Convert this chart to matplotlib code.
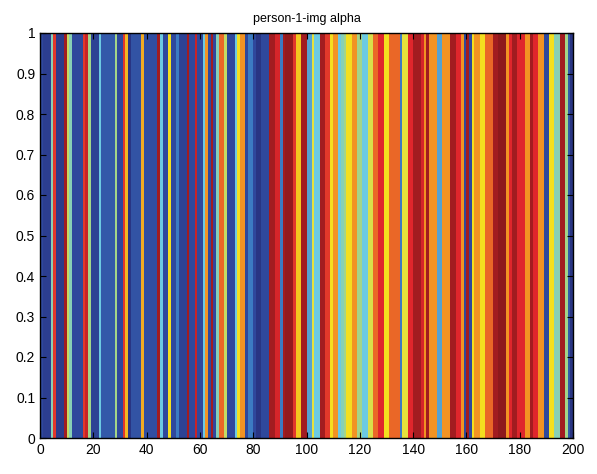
import numpy as np
from matplotlib import pyplot as plt
from matplotlib.colors import LinearSegmentedColormap

plt.rcParams['font.family'] = ['Liberation Sans', 'DejaVu Sans']

# one alpha value per column (0..199)
alpha = [
    0.15, 0.10, 0.10, 0.10, 0.45, 0.85, 0.08, 0.08, 0.08, 0.95,
    0.55, 0.45, 0.15, 0.15, 0.15, 0.15, 0.85, 0.90, 0.50, 0.12,
    0.12, 0.12, 0.40, 0.20, 0.20, 0.20, 0.20, 0.20, 0.50, 0.15,
    0.15, 0.85, 0.70, 0.05, 0.18, 0.18, 0.18, 0.18, 0.72, 0.17,
    0.17, 0.17, 0.17, 0.17, 0.95, 0.40, 0.15, 0.15, 0.65, 0.15,
    0.15, 0.30, 0.12, 0.12, 0.12, 0.95, 0.15, 0.15, 0.90, 0.15,
    0.15, 0.40, 0.75, 0.15, 0.95, 0.15, 0.45, 0.80, 0.80, 0.55,
    0.15, 0.15, 0.15, 0.40, 0.65, 0.75, 0.75, 0.15, 0.30, 0.30,
    0.15, 0.05, 0.05, 0.15, 0.15, 0.15, 0.95, 0.95, 0.88, 0.88,
    0.30, 0.95, 0.97, 0.97, 0.97, 0.85, 0.68, 0.68, 0.95, 0.95,
    0.35, 0.35, 0.60, 0.40, 0.40, 0.95, 0.95, 0.85, 0.85, 0.65,
    0.75, 0.75, 0.40, 0.45, 0.50, 0.65, 0.65, 0.75, 0.75, 0.50,
    0.50, 0.40, 0.40, 0.58, 0.58, 0.80, 0.80, 0.87, 0.87, 0.65,
    0.65, 0.80, 0.80, 0.80, 0.80, 0.30, 0.60, 0.60, 0.87, 0.87,
    0.95, 0.95, 0.95, 0.88, 0.75, 0.95, 0.75, 0.75, 0.75, 0.35,
    0.35, 0.75, 0.75, 0.75, 0.95, 0.95, 0.87, 0.87, 0.75, 0.15,
    0.95, 0.15, 0.65, 0.75, 0.75, 0.65, 0.65, 0.80, 0.80, 0.80,
    0.95, 0.95, 0.98, 0.98, 0.98, 0.75, 0.87, 0.95, 0.95, 0.87,
    0.87, 0.87, 0.75, 0.75, 0.95, 0.87, 0.87, 0.75, 0.75, 0.15,
    0.15, 0.65, 0.65, 0.45, 0.45, 0.95, 0.95, 0.50, 0.20, 0.05,
]

x_ticks = list(range(0, 201, 20))
y_ticks = [round(0.1 * i, 1) for i in range(11)]
y_labels = ['0'] + [f'{v:g}' for v in y_ticks[1:-1]] + ['1']

# muted jet, as it looks in the screenshot
muted_jet = LinearSegmentedColormap.from_list('muted_jet', [
    (0.00, '#262c78'), (0.15, '#2f489c'), (0.30, '#3c7cc2'),
    (0.40, '#6ccae2'), (0.50, '#a3d58a'), (0.60, '#e6e23c'),
    (0.65, '#f4e01f'), (0.75, '#f29623'), (0.87, '#df262c'),
    (1.00, '#801719'),
])

fig = plt.figure(figsize=(5.97, 4.74), dpi=100)
ax = fig.add_axes([40 / 597, 36 / 474, 533 / 597, 405 / 474])

edges_x = np.arange(len(alpha) + 1)
ax.pcolormesh(edges_x, [0, 1], np.array([alpha]), cmap=muted_jet, vmin=0, vmax=1)

ax.set_xlim(0, 200)
ax.set_ylim(0, 1)
ax.set_xticks(x_ticks)
ax.set_yticks(y_ticks)
ax.set_yticklabels(y_labels)
ax.tick_params(direction='in', top=True, right=True, labelsize=10, length=4)
for side in ax.spines.values():
    side.set_linewidth(1.0)
ax.set_title('person-1-img alpha', fontsize=9, pad=8)

fig.savefig('out.png', dpi=100)
